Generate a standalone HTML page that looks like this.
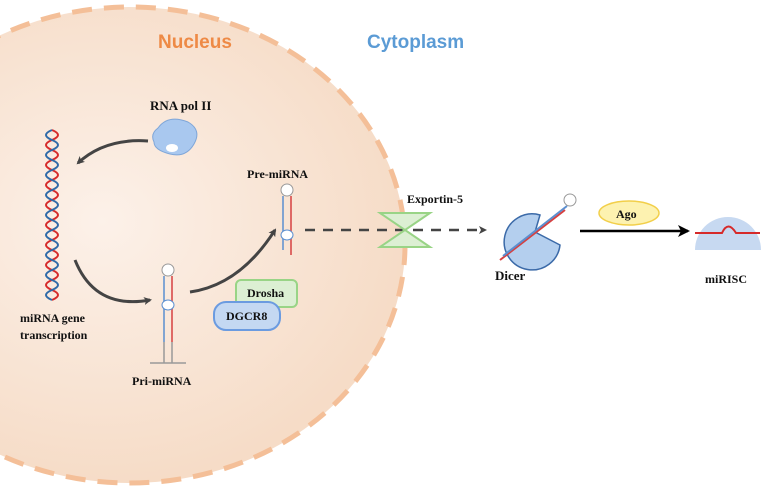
<!DOCTYPE html>
<html><head><meta charset="utf-8"><style>
html,body{margin:0;padding:0;background:#fff;}
svg{display:block;}
text{font-family:"Liberation Serif",serif;font-weight:bold;fill:#111;}
</style></head><body>
<svg width="767" height="486" viewBox="0 0 767 486" xmlns="http://www.w3.org/2000/svg">
<defs>
<radialGradient id="g" cx="0.45" cy="0.45" r="0.55">
<stop offset="0" stop-color="#fcf1e9"/><stop offset="1" stop-color="#f6dcc7"/>
</radialGradient>
<marker id="ah" markerWidth="8" markerHeight="8" refX="6" refY="4" orient="auto" markerUnits="userSpaceOnUse">
<path d="M0,0 L8,4 L0,8 L2,4Z" fill="#444"/></marker>
<marker id="ab" markerWidth="12" markerHeight="12" refX="10" refY="6" orient="auto" markerUnits="userSpaceOnUse">
<path d="M0,0 L12,6 L0,12 L3,6Z" fill="#000"/></marker>
</defs>
<ellipse cx="130" cy="245" rx="275" ry="238" fill="url(#g)" stroke="#f4bf98" stroke-width="5" stroke-dasharray="20,12"/>
<text x="158" y="48" font-size="19" style="font-family:'Liberation Sans',sans-serif;fill:#ee8a46">Nucleus</text>
<text x="367" y="48" font-size="19" style="font-family:'Liberation Sans',sans-serif;fill:#5b9bd5">Cytoplasm</text>
<!-- DNA -->
<g stroke-width="2" fill="none">
<path d="M52,130 q12,5 0,10 q-12,5 0,10 q12,5 0,10 q-12,5 0,10 q12,5 0,10 q-12,5 0,10 q12,5 0,10 q-12,5 0,10 q12,5 0,10 q-12,5 0,10 q12,5 0,10 q-12,5 0,10 q12,5 0,10 q-12,5 0,10 q12,5 0,10 q-12,5 0,10 q12,5 0,10" stroke="#d62a2a"/>
<path d="M52,130 q-12,5 0,10 q12,5 0,10 q-12,5 0,10 q12,5 0,10 q-12,5 0,10 q12,5 0,10 q-12,5 0,10 q12,5 0,10 q-12,5 0,10 q12,5 0,10 q-12,5 0,10 q12,5 0,10 q-12,5 0,10 q12,5 0,10 q-12,5 0,10 q12,5 0,10 q-12,5 0,10" stroke="#2f6aa8"/>
</g>
<text x="150" y="110" font-size="13">RNA pol II</text>
<path d="M158,128 q10,-14 30,-6 q14,8 6,22 q-8,14 -24,10 q-16,-4 -16,-12 q-4,-8 4,-14z" fill="#a9c8ef" stroke="#7fa6d8"/>
<ellipse cx="172" cy="148" rx="6" ry="4" fill="#fff"/>
<path d="M148,141 Q105,138 78,163" stroke="#444" stroke-width="3" fill="none" marker-end="url(#ah)"/>
<path d="M75,260 Q95,310 150,300" stroke="#444" stroke-width="3" fill="none" marker-end="url(#ah)"/>
<path d="M190,292 Q240,285 275,230" stroke="#444" stroke-width="3" fill="none" marker-end="url(#ah)"/>
<!-- pri-miRNA -->
<circle cx="168" cy="270" r="6" fill="#fff" stroke="#999"/>
<g stroke-width="1.5">
<line x1="164" y1="276" x2="164" y2="342" stroke="#5b8fd0"/>
<line x1="172" y1="276" x2="172" y2="342" stroke="#d64040"/>
<line x1="164" y1="342" x2="164" y2="363" stroke="#999"/>
<line x1="172" y1="342" x2="172" y2="363" stroke="#999"/>
<line x1="150" y1="363" x2="186" y2="363" stroke="#999"/>
</g>
<ellipse cx="168" cy="305" rx="6" ry="5" fill="#fff" stroke="#5b8fd0"/>
<text x="132" y="385" font-size="12">Pri-miRNA</text>
<text x="20" y="322" font-size="12">miRNA gene</text>
<text x="20" y="339" font-size="12">transcription</text>
<!-- pre-miRNA -->
<circle cx="287" cy="190" r="6" fill="#fff" stroke="#999"/>
<line x1="283" y1="196" x2="283" y2="250" stroke="#5b8fd0" stroke-width="1.5"/>
<line x1="291" y1="196" x2="291" y2="255" stroke="#d64040" stroke-width="1.5"/>
<ellipse cx="287" cy="235" rx="6" ry="5" fill="#fff" stroke="#5b8fd0"/>
<text x="247" y="178" font-size="12">Pre-miRNA</text>
<rect x="236" y="280" width="61" height="27" rx="5" fill="#dcefd3" stroke="#99d486" stroke-width="2"/>
<text x="247" y="297" font-size="12">Drosha</text>
<rect x="214" y="302" width="66" height="28" rx="12" fill="#c4d8f2" stroke="#6b9be0" stroke-width="2"/>
<text x="226" y="320" font-size="12">DGCR8</text>
<!-- exportin -->
<line x1="305" y1="230" x2="485" y2="230" stroke="#444" stroke-width="2.5" stroke-dasharray="10,8" marker-end="url(#ah)"/>
<path d="M380,213 L430,213 L405,230 L430,247 L380,247 L405,230Z" fill="#dcefd3" stroke="#99d486" stroke-width="2"/>
<text x="407" y="203" font-size="12">Exportin-5</text>
<!-- Dicer -->
<path d="M540,215 A28,28 0 1 0 560,245 L535,232 Z" fill="#b4cfee" stroke="#3b6aa8" stroke-width="1.5"/>
<line x1="500" y1="260" x2="565" y2="210" stroke="#d64040" stroke-width="2"/>
<line x1="503" y1="256" x2="567" y2="206" stroke="#5b8fd0" stroke-width="2"/>
<circle cx="570" cy="200" r="6" fill="#fff" stroke="#999"/>
<text x="495" y="280" font-size="13">Dicer</text>
<!-- Ago -->
<ellipse cx="629" cy="213" rx="30" ry="12" fill="#fdf2b0" stroke="#f2cf4a" stroke-width="1.5"/>
<text x="616" y="218" font-size="12">Ago</text>
<line x1="580" y1="231" x2="688" y2="231" stroke="#000" stroke-width="2.5" marker-end="url(#ab)"/>
<path d="M695,250 A33,33 0 0 1 761,250 Z" fill="#c7d9f1"/>
<path d="M695,233 L722,233 Q728,220 736,233 L760,233" stroke="#d62a2a" stroke-width="2" fill="none"/>
<text x="705" y="283" font-size="12">miRISC</text>
</svg>
</body></html>
